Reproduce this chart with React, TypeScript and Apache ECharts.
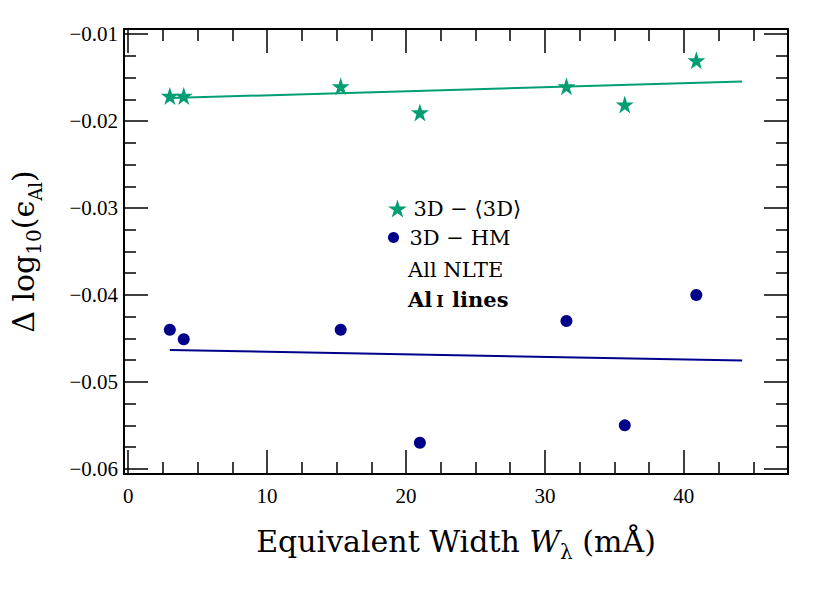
import React, { useEffect, useRef } from 'react';
import * as echarts from 'echarts';

// ---- data ----
const widths = [3.0, 4.0, 15.3, 21.0, 31.55, 35.75, 40.9];
const diff3DMean = [-0.0171, -0.0171, -0.016, -0.019, -0.016, -0.0181, -0.013];
const diffHM = [-0.044, -0.0451, -0.044, -0.057, -0.043, -0.055, -0.04];
const fitX = [3.0, 44.2];
const fit3DMean = [-0.01735, -0.01544];
const fitHM = [-0.04632, -0.04755];
const xMajorTicks = [0, 10, 20, 30, 40];
const xMinorTicks = [2.5, 5, 7.5, 12.5, 15, 17.5, 22.5, 25, 27.5, 32.5, 35, 37.5, 42.5, 45];
const yMajorTicks = [-0.06, -0.05, -0.04, -0.03, -0.02, -0.01];
const yMinorTicks = [
  -0.0575, -0.055, -0.0525, -0.0475, -0.045, -0.0425, -0.0375, -0.035, -0.0325,
  -0.0275, -0.025, -0.0225, -0.0175, -0.015, -0.0125,
];
const seriesNames = ['3D − ⟨3D⟩', '3D − HM'];

const X_MIN = -0.3;
const X_MAX = 47.5;
const Y_MIN = -0.0606;
const Y_MAX = -0.0094;

const FONT = "'Liberation Serif', 'DejaVu Serif', serif";
const WIDE_FONT = "'DejaVu Serif', 'Liberation Serif', serif";
const GREEN = '#029E73';
const BLUE = '#00008B';
const STAR =
  'path://M0,-10 L2.245,-3.09 L9.511,-3.09 L3.633,1.18 L5.878,8.09 L0,3.82 L-5.878,8.09 L-3.633,1.18 L-9.511,-3.09 L-2.245,-3.09 Z';

const tickLine = { color: '#000', width: 1.5 };
const frameLine = { color: '#000', width: 2 };

function xAxisDef(position: 'bottom' | 'top', major: boolean) {
  const ticks = major ? xMajorTicks : xMinorTicks;
  return {
    type: 'value',
    position,
    min: X_MIN,
    max: X_MAX,
    splitLine: { show: false },
    axisLine: { show: major, onZero: false, lineStyle: frameLine },
    axisTick: { show: true, inside: true, length: major ? 24 : 12, customValues: ticks, lineStyle: tickLine },
    axisLabel: { show: false },
  };
}

function yAxisDef(position: 'left' | 'right', major: boolean) {
  const ticks = major ? yMajorTicks : yMinorTicks;
  return {
    type: 'value',
    position,
    min: Y_MIN,
    max: Y_MAX,
    splitLine: { show: false },
    axisLine: { show: major, onZero: false, lineStyle: frameLine },
    axisTick: { show: true, inside: true, length: major ? 24 : 12, customValues: ticks, lineStyle: tickLine },
    axisLabel: { show: false },
  };
}

const subStyle = (size: number) => ({
  fontSize: size,
  fontFamily: WIDE_FONT,
  color: '#000',
  verticalAlign: 'bottom',
  padding: [0, 0, -6, 0],
});

const legendText = { fontSize: 21, fontFamily: WIDE_FONT, color: '#000' };

export default function App() {
  const ref = useRef<HTMLDivElement>(null);

  useEffect(() => {
    if (!ref.current) return;
    const chart = echarts.init(ref.current, undefined, { renderer: 'svg' });

    const xBottom: any = xAxisDef('bottom', true);
    xBottom.axisLabel = {
      show: true,
      customValues: xMajorTicks,
      margin: 11,
      fontSize: 21,
      fontFamily: FONT,
      color: '#000',
      formatter: (v: number) => String(v),
    };
    xBottom.name = 'Equivalent Width {i|W}{s|λ} (mÅ)';
    xBottom.nameLocation = 'middle';
    xBottom.nameGap = 52;
    xBottom.nameTextStyle = {
      fontSize: 30,
      fontFamily: WIDE_FONT,
      color: '#000',
      rich: {
        i: { fontSize: 30, fontFamily: WIDE_FONT, fontStyle: 'italic', color: '#000' },
        s: subStyle(20),
      },
    };

    const yLeft: any = yAxisDef('left', true);
    yLeft.axisLabel = {
      show: true,
      customValues: yMajorTicks,
      margin: 6,
      fontSize: 21,
      fontFamily: FONT,
      color: '#000',
      formatter: (v: number) => v.toFixed(2).replace('-', '−'),
    };
    yLeft.name = 'Δ log{s|10}(ϵ{a|Al})';
    yLeft.nameLocation = 'middle';
    yLeft.nameRotate = 90;
    yLeft.nameGap = 86;
    yLeft.nameTextStyle = {
      fontSize: 30,
      fontFamily: WIDE_FONT,
      color: '#000',
      rich: {
        s: subStyle(20),
        a: subStyle(18),
      },
    };

    const option: any = {
      animation: false,
      backgroundColor: '#fff',
      grid: { left: 124, right: 42, top: 29, bottom: 119, containLabel: false },
      xAxis: [xBottom, xAxisDef('bottom', false), xAxisDef('top', true), xAxisDef('top', false)],
      yAxis: [yLeft, yAxisDef('left', false), yAxisDef('right', true), yAxisDef('right', false)],
      legend: [
        {
          data: [{ name: seriesNames[0] }],
          left: 388,
          top: 198,
          padding: 0,
          itemWidth: 22,
          itemHeight: 18,
          selectedMode: false,
          textStyle: legendText,
        },
        {
          data: [{ name: seriesNames[1] }],
          left: 388,
          top: 227,
          padding: 0,
          itemWidth: 22,
          itemHeight: 11,
          selectedMode: false,
          textStyle: legendText,
        },
      ],
      graphic: [
        {
          type: 'text',
          left: 408,
          top: 259,
          style: { text: 'All NLTE', fontSize: 21, fontFamily: WIDE_FONT, fill: '#000' },
        },
        {
          type: 'text',
          left: 408,
          top: 289,
          style: {
            text: '{b|Al}{c|I}{b| lines}',
            fill: '#000',
            rich: {
              b: { fontSize: 21, fontFamily: WIDE_FONT, fontWeight: 'bold', color: '#000', verticalAlign: 'bottom' },
              c: { fontSize: 16, fontFamily: WIDE_FONT, fontWeight: 'bold', color: '#000', verticalAlign: 'bottom', padding: [0, 1, 1, 4] },
            },
          },
        },
      ],
      series: [
        {
          name: seriesNames[0] + ' fit',
          type: 'line',
          data: fitX.map((x, i) => [x, fit3DMean[i]]),
          showSymbol: false,
          lineStyle: { color: GREEN, width: 2 },
          itemStyle: { color: GREEN },
          z: 1,
        },
        {
          name: seriesNames[1] + ' fit',
          type: 'line',
          data: fitX.map((x, i) => [x, fitHM[i]]),
          showSymbol: false,
          lineStyle: { color: BLUE, width: 2 },
          itemStyle: { color: BLUE },
          z: 1,
        },
        {
          name: seriesNames[0],
          type: 'scatter',
          symbol: STAR,
          symbolSize: 18,
          itemStyle: { color: GREEN, opacity: 1 },
          data: widths.map((x, i) => [x, diff3DMean[i]]),
          z: 3,
        },
        {
          name: seriesNames[1],
          type: 'scatter',
          symbol: 'circle',
          symbolSize: 12,
          itemStyle: { color: BLUE, opacity: 1 },
          data: widths.map((x, i) => [x, diffHM[i]]),
          z: 3,
        },
      ],
    };

    chart.setOption(option);
    return () => chart.dispose();
  }, []);

  return <div ref={ref} style={{ width: 830, height: 593, position: 'absolute', left: 0, top: 0 }} />;
}
